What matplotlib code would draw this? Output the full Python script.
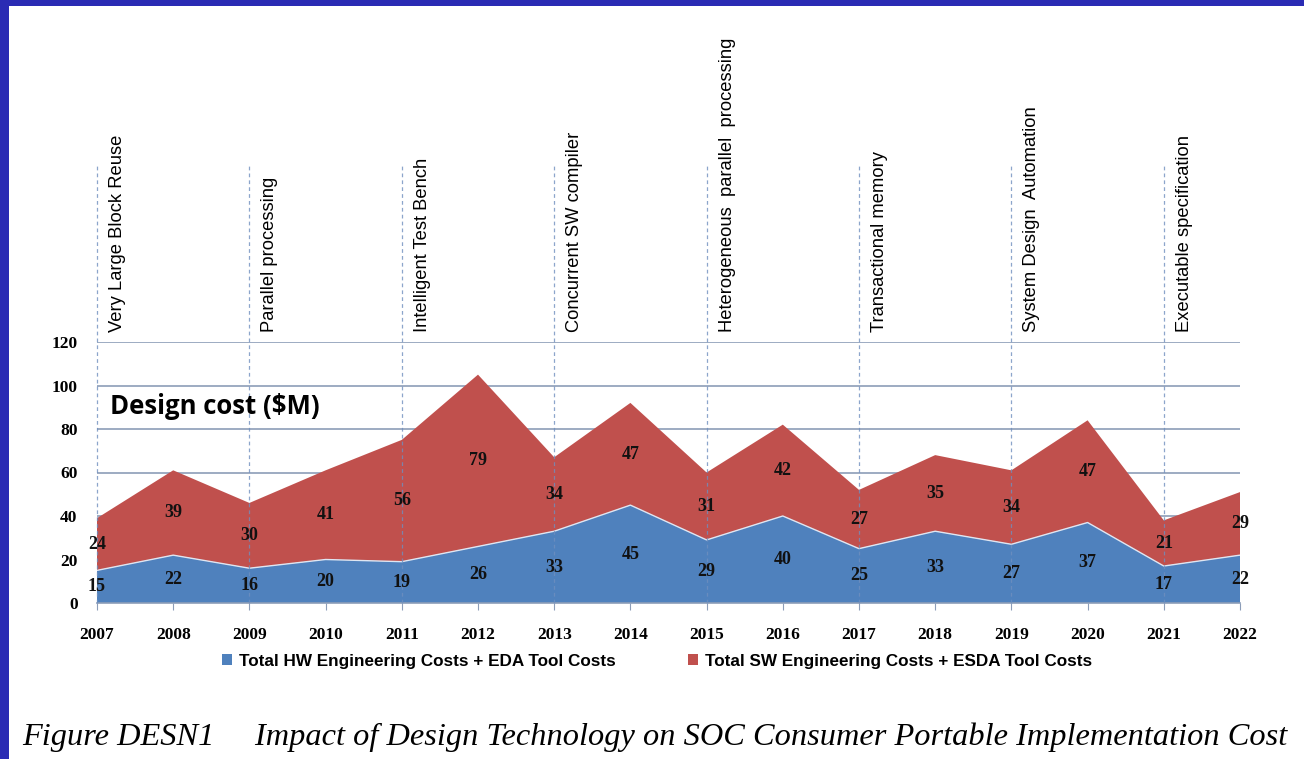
import matplotlib
matplotlib.use("Agg")
import matplotlib.pyplot as plt
from matplotlib.patches import Rectangle

# data
years = list(range(2007, 2023))
hw_cost = [15, 22, 16, 20, 19, 26, 33, 45, 29, 40, 25, 33, 27, 37, 17, 22]
sw_cost = [24, 39, 30, 41, 56, 79, 34, 47, 31, 42, 27, 35, 34, 47, 21, 29]
milestone_years = [2007, 2009, 2011, 2013, 2015, 2017, 2019, 2021]
milestone_labels = ["Very Large Block Reuse", "Parallel processing", "Intelligent Test Bench",
                    "Concurrent SW compiler", "Heterogeneous  parallel  processing",
                    "Transactional memory", "System Design  Automation", "Executable specification"]
yticks = [0, 20, 40, 60, 80, 100, 120]

BLUE = "#4f81bd"; RED = "#c0504d"; GRID = "#8c9db8"; DASH = "#6f8fbf"

fig = plt.figure(figsize=(13.04, 7.59), dpi=100)
fig.patch.set_facecolor("white")
# slide border
fig.patches.append(Rectangle((0, 0), 9 / 1304, 1, transform=fig.transFigure, fc="#2a2bb4", ec="none"))
fig.patches.append(Rectangle((0, 1 - 6 / 759), 1, 6 / 759, transform=fig.transFigure, fc="#2a2bb4", ec="none"))

ax = fig.add_axes([97 / 1304, 156 / 759, 1143 / 1304, 261 / 759])
ax.set_xlim(2007, 2022)
ax.set_ylim(0, 120)

for t in yticks[1:]:
    ax.axhline(t, color=GRID, lw=1.2, zorder=1)

ax.stackplot(years, hw_cost, sw_cost, colors=[BLUE, RED], zorder=2,
             labels=["Total HW Engineering Costs + EDA Tool Costs",
                     "Total SW Engineering Costs + ESDA Tool Costs"])
ax.plot(years, hw_cost, color="#dfe6f2", lw=1.0, zorder=3)

# value labels
for x, h, s in zip(years, hw_cost, sw_cost):
    ax.text(x, h / 2, str(h), ha="center", va="center", fontsize=13, fontweight="bold",
            color="#111111", family="Liberation Serif", zorder=5)
    ax.text(x, h + s / 2, str(s), ha="center", va="center", fontsize=13, fontweight="bold",
            color="#111111", family="Liberation Serif", zorder=5)

# milestones
for x, lab in zip(milestone_years, milestone_labels):
    ax.plot([x, x], [0, 201], color=DASH, lw=0.9, ls=(0, (3, 2.5)), alpha=0.8,
            clip_on=False, zorder=4)
    ax.text(x + 0.27, 124.5, lab, rotation=90, ha="center", va="bottom",
            fontsize=13.2, family="Liberation Sans", color="black", clip_on=False)

ax.text(2007.17, 90.5, "Design cost ($M)", fontsize=18.5, fontweight="bold",
        family="Open Sans", va="center", ha="left", zorder=6)

for sp in ["top", "right", "left"]:
    ax.spines[sp].set_visible(False)
ax.spines["bottom"].set_color(GRID)
ax.spines["bottom"].set_linewidth(1.2)
ax.set_xticks(years)
ax.set_xticklabels([str(y) for y in years], fontsize=12.5, fontweight="bold", family="Liberation Serif")
ax.set_yticks(yticks)
ax.set_yticklabels([str(t) for t in yticks], fontsize=12.5, fontweight="bold", family="Liberation Serif")
ax.tick_params(axis="x", length=5, color=GRID, pad=12)
ax.tick_params(axis="y", length=0, pad=14)

leg = ax.legend(loc="upper center", bbox_to_anchor=(0.49, -0.135), ncol=2, frameon=False,
                handlelength=0.6, handleheight=0.6, columnspacing=4.2, handletextpad=0.4,
                prop={"family": "Liberation Sans", "weight": "bold", "size": 12.3})

fig.text(22 / 1304, 22 / 759,
         "Figure DESN1     Impact of Design Technology on SOC Consumer Portable Implementation Cost",
         fontsize=23.3, family="Liberation Serif", style="italic", va="center", ha="left")

fig.savefig("out.png", dpi=100)
